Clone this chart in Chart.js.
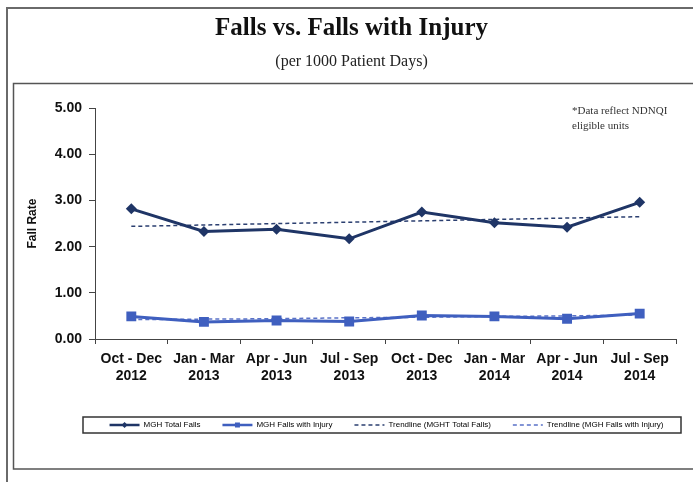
<!DOCTYPE html>
<html>
<head>
<meta charset="utf-8">
<title>Falls vs. Falls with Injury</title>
<script src="https://cdn.jsdelivr.net/npm/chart.js@4/dist/chart.umd.min.js"></script>
<style>
  html, body { margin: 0; padding: 0; background: #fff; }
  #wrap { width: 693px; height: 482px; }
</style>
</head>
<body>
<div id="wrap"><canvas id="fallsChart" width="693" height="482"></canvas></div>
<script>
/* ====== DATA ====== */
const quarters = [
    ['Oct - Dec', '2012'], ['Jan - Mar', '2013'], ['Apr - Jun', '2013'], ['Jul - Sep', '2013'],
    ['Oct - Dec', '2013'], ['Jan - Mar', '2014'], ['Apr - Jun', '2014'], ['Jul - Sep', '2014']
];
const totalFalls  = [2.82, 2.33, 2.38, 2.17, 2.75, 2.52, 2.42, 2.96];
const injuryFalls = [0.49, 0.37, 0.40, 0.38, 0.51, 0.49, 0.44, 0.55];
const totalTrend  = [2.44, 2.47, 2.50, 2.53, 2.56, 2.59, 2.62, 2.65];
const injuryTrend = [0.42, 0.43, 0.44, 0.46, 0.47, 0.49, 0.50, 0.52];
const seriesNames = ['MGH Total Falls', 'MGH Falls with Injury',
                     'Trendline (MGHT Total Falls)', 'Trendline (MGH Falls with Injury)'];
const noteLines = ['*Data reflect NDNQI', 'eligible units'];

const SANS = 'Arial, "Liberation Sans", sans-serif';
const SERIF = 'Garamond, "Liberation Serif", serif';

const NAVY = '#1f3566';
const BLUE = '#3f5fbf';

/* ====== PLUGINS: frames, note, legend box ====== */
const framePlugin = {
    id: 'frames',
    afterLayout(chart) {
        // the original sits its titles and legend a bit right of centre
        chart.boxes.forEach(b => {
            let dx = 0;
            if (b === chart.legend) dx = 42;
            else if (b.options && b.options.text) dx = 7;
            b.left += dx;
            b.right += dx;
        });
    },
    beforeDraw(chart) {
        const c = chart.ctx;
        c.save();
        c.fillStyle = '#fff';
        c.fillRect(0, 0, chart.width, chart.height);
        c.strokeStyle = '#6a6a6a';
        c.lineWidth = 2;
        c.strokeRect(7, 8, 720, 520);
        c.strokeStyle = '#555';
        c.lineWidth = 1.5;
        c.strokeRect(13.5, 83.5, 720, 385.5);
        c.restore();
    },
    afterDraw(chart) {
        const c = chart.ctx;
        const area = chart.chartArea;
        c.save();
        // note in the top right of the plot
        c.fillStyle = '#333';
        c.font = '11px ' + SERIF;
        c.textAlign = 'left';
        c.textBaseline = 'middle';
        noteLines.forEach((t, i) => c.fillText(t, area.right - 104, area.top + 3 + i * 15));

        // legend frame + markers on the solid samples
        const lg = chart.legend;
        const boxes = lg.legendHitBoxes;
        if (boxes && boxes.length) {
            const top = Math.min(...boxes.map(b => b.top));
            const bottom = Math.max(...boxes.map(b => b.top + b.height));
            c.strokeStyle = '#333';
            c.lineWidth = 1.5;
            c.strokeRect(area.left - 12, top - 4, area.right - area.left + 17, bottom - top + 8);

            const bw = lg.options.labels.pointStyleWidth;
            boxes.slice(0, 2).forEach((b, i) => {
                const cx = b.left + bw / 2;
                const cy = b.top + b.height / 2;
                c.fillStyle = i === 0 ? NAVY : BLUE;
                c.beginPath();
                if (i === 0) {
                    c.moveTo(cx, cy - 3); c.lineTo(cx + 3, cy); c.lineTo(cx, cy + 3); c.lineTo(cx - 3, cy);
                } else {
                    c.rect(cx - 2.5, cy - 2.5, 5, 5);
                }
                c.closePath();
                c.fill();
            });
        }
        c.restore();
    }
};

/* ====== CHART ====== */
const ctx = document.getElementById('fallsChart').getContext('2d');

new Chart(ctx, {
    type: 'line',
    data: {
        labels: quarters,
        datasets: [
            {
                label: seriesNames[0],
                data: totalFalls,
                borderColor: NAVY,
                backgroundColor: NAVY,
                borderWidth: 3,
                pointStyle: 'rectRot',
                pointRadius: 5.5,
                pointBorderWidth: 0,
                tension: 0
            },
            {
                label: seriesNames[1],
                data: injuryFalls,
                borderColor: BLUE,
                backgroundColor: BLUE,
                borderWidth: 3,
                pointStyle: 'rect',
                pointRadius: 7,
                pointBorderWidth: 0,
                tension: 0
            },
            {
                label: seriesNames[2],
                data: totalTrend,
                borderColor: '#2b3f70',
                borderWidth: 1.5,
                borderDash: [4, 3],
                pointRadius: 0,
                tension: 0
            },
            {
                label: seriesNames[3],
                data: injuryTrend,
                borderColor: '#5a72c8',
                borderWidth: 1.5,
                borderDash: [4, 3],
                pointRadius: 0,
                tension: 0
            }
        ]
    },
    options: {
        responsive: false,
        animation: false,
        devicePixelRatio: 1,
        layout: { padding: { left: 13, right: 17, top: 0, bottom: 43 } },
        plugins: {
            title: {
                display: true,
                text: 'Falls vs. Falls with Injury',
                color: '#111',
                font: { family: SERIF, size: 25, weight: 'bold' },
                padding: { top: 14, bottom: 8 }
            },
            subtitle: {
                display: true,
                text: '(per 1000 Patient Days)',
                color: '#222',
                font: { family: SERIF, size: 16 },
                padding: { top: 0, bottom: 37 }
            },
            legend: {
                position: 'bottom',
                labels: {
                    usePointStyle: true,
                    pointStyleWidth: 30,
                    color: '#333',
                    font: { family: SANS, size: 8 },
                    padding: 22,
                    generateLabels(chart) {
                        return chart.data.datasets.map((ds, i) => ({
                            text: ds.label,
                            fillStyle: ds.borderColor,
                            strokeStyle: ds.borderColor,
                            lineWidth: i < 2 ? 2.5 : 1.5,
                            lineDash: ds.borderDash || [],
                            pointStyle: 'line',
                            datasetIndex: i
                        }));
                    }
                }
            },
            tooltip: { enabled: false }
        },
        scales: {
            x: {
                offset: true,
                afterFit(scale) { scale.height += 8; },
                grid: { offset: true, drawOnChartArea: false, drawTicks: true, tickLength: 5, color: '#444' },
                border: { display: true, color: '#444', width: 1 },
                ticks: {
                    color: '#111',
                    padding: 6,
                    maxRotation: 0,
                    autoSkip: false,
                    font: { family: SANS, size: 14, weight: 'bold', lineHeight: 1.25 }
                }
            },
            y: {
                min: 0,
                max: 5,
                afterFit(scale) { scale.width = 82; },
                grid: { drawOnChartArea: false, drawTicks: true, tickLength: 6, color: '#444' },
                border: { display: true, color: '#444', width: 1 },
                ticks: {
                    stepSize: 1,
                    color: '#111',
                    padding: 7,
                    font: { family: SANS, size: 14, weight: 'bold' },
                    callback: v => v.toFixed(2)
                },
                title: {
                    display: true,
                    text: 'Fall Rate',
                    color: '#111',
                    font: { family: SANS, size: 12, weight: 'bold' },
                    padding: { top: 12, bottom: 0 }
                }
            }
        }
    },
    plugins: [framePlugin]
});
</script>
</body>
</html>
